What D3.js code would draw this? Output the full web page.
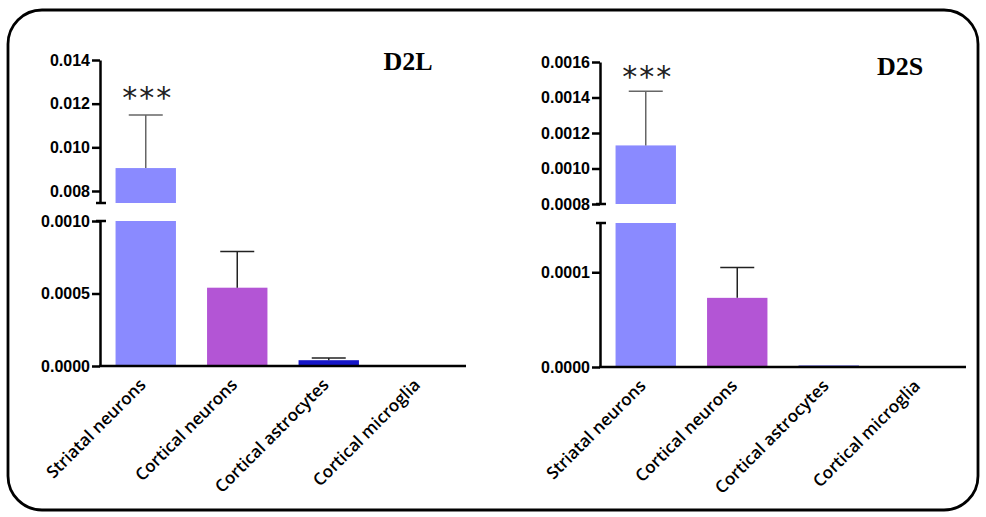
<!DOCTYPE html>
<html>
<head>
<meta charset="utf-8">
<script src="https://cdn.jsdelivr.net/npm/d3@7"></script>
<style>
	body { margin: 0; background: #fff; }
	svg { display: block; }
</style>
</head>
<body>
<svg id="graph"></svg>
<script>
var width = 986, height = 517;

// categories on the x axis
var categories = ["Striatal neurons", "Cortical neurons", "Cortical astrocytes", "Cortical microglia"];
var barColors = ["#8a8aff", "#b355d5", "#1616c8", "#888888"];
var stars = ["***", "", "", ""];

// D2L panel
var d2lMeans = [0.00905, 0.00054, 0.00004, 0];
var d2lErrors = [0.00243, 0.00025, 0.000016, 0];
var d2lUpperTicks = [0.008, 0.010, 0.012, 0.014];
var d2lLowerTicks = [0.0000, 0.0005, 0.0010];

// D2S panel
var d2sMeans = [0.00113, 0.000073, 0.0000015, 0];
var d2sErrors = [0.000305, 0.000032, 0, 0];
var d2sUpperTicks = [0.0008, 0.0010, 0.0012, 0.0014, 0.0016];
var d2sLowerTicks = [0.0000, 0.0001];

var svg = d3.select("#graph")
	.attr("width", width)
	.attr("height", height);

// rounded frame
svg.append("rect")
	.attr("x", 8).attr("y", 10)
	.attr("width", 970).attr("height", 500)
	.attr("rx", 34).attr("ry", 34)
	.style("fill", "none")
	.style("stroke", "#000")
	.style("stroke-width", 2.8);

function drawPanel(cfg){
	var plot = svg.append("g");

	var xScale = d3.scaleBand().domain(categories)
		.range([cfg.x0, cfg.x1])
		.paddingInner(0.34).paddingOuter(0.17);

	var yUpper = d3.scaleLinear().domain(cfg.upperDomain).range(cfg.upperRange);
	var yLower = d3.scaleLinear().domain(cfg.lowerDomain).range(cfg.lowerRange);

	var data = categories.map(function(c, i){
		return {cat: c, mean: cfg.means[i], err: cfg.errors[i], color: barColors[i], star: stars[i]};
	});

	// lower part of each bar
	plot.selectAll(".barLow")
		.data(data.filter(function(d){ return d.mean > 0; }))
		.enter().append("rect")
		.attr("x", function(d){ return xScale(d.cat); })
		.attr("width", xScale.bandwidth())
		.attr("y", function(d){ return yLower(Math.min(d.mean, cfg.lowerDomain[1])); })
		.attr("height", function(d){ return yLower(0) - yLower(Math.min(d.mean, cfg.lowerDomain[1])); })
		.style("fill", function(d){ return d.color; });

	// upper part of bars that go past the break
	var tall = data.filter(function(d){ return d.mean > cfg.upperDomain[0]; });
	plot.selectAll(".barHigh")
		.data(tall)
		.enter().append("rect")
		.attr("x", function(d){ return xScale(d.cat); })
		.attr("width", xScale.bandwidth())
		.attr("y", function(d){ return yUpper(d.mean); })
		.attr("height", function(d){ return yUpper(cfg.upperDomain[0]) - yUpper(d.mean); })
		.style("fill", function(d){ return d.color; });

	// error bars
	var withErr = data.filter(function(d){ return d.err > 0; });
	function yOf(v, d){ return d.mean > cfg.upperDomain[0] ? yUpper(v) : yLower(v); }
	withErr.forEach(function(d){
		var cx = xScale(d.cat) + xScale.bandwidth() / 2;
		var col = d.mean > cfg.upperDomain[0] ? "#666" : "#222";
		plot.append("line")
			.attr("x1", cx).attr("x2", cx)
			.attr("y1", yOf(d.mean, d)).attr("y2", yOf(d.mean + d.err, d))
			.style("stroke", col).style("stroke-width", 1.5);
		plot.append("line")
			.attr("x1", cx - 17).attr("x2", cx + 17)
			.attr("y1", yOf(d.mean + d.err, d)).attr("y2", yOf(d.mean + d.err, d))
			.style("stroke", col).style("stroke-width", 1.5);
		if (d.star){
			plot.append("text")
				.attr("x", cx + 2)
				.attr("y", yOf(d.mean + d.err, d) - cfg.starGap)
				.attr("text-anchor", "middle")
				.style("font-family", "DejaVu Sans")
				.style("font-size", "30px")
				.style("letter-spacing", "2px")
				.style("fill", "#222")
				.text(d.star);
		}
	});

	// y axes, one per segment
	var upperAxis = plot.append("g")
		.attr("transform", "translate(" + cfg.x0 + ",0)")
		.call(d3.axisLeft(yUpper).tickValues(cfg.upperTicks)
			.tickFormat(d3.format(cfg.upperFormat)).tickSize(8).tickSizeOuter(0).tickPadding(2));
	var lowerAxis = plot.append("g")
		.attr("transform", "translate(" + cfg.x0 + ",0)")
		.call(d3.axisLeft(yLower).tickValues(cfg.lowerTicks)
			.tickFormat(d3.format(".4f")).tickSize(8).tickSizeOuter(0).tickPadding(2));

	[upperAxis, lowerAxis].forEach(function(ax){
		ax.selectAll("path, line").style("stroke", "#000").style("stroke-width", 2.5);
		ax.selectAll("text")
			.style("font-family", "Liberation Sans, Arial")
			.style("font-weight", "bold")
			.style("font-size", "16px")
			.style("fill", "#000");
	});

	// little caps at the axis break
	[yUpper(cfg.upperDomain[0]), yLower(cfg.lowerDomain[1])].forEach(function(y){
		plot.append("line")
			.attr("x1", cfg.x0 - 4).attr("x2", cfg.x0 + 6)
			.attr("y1", y).attr("y2", y)
			.style("stroke", "#000").style("stroke-width", 2.5);
	});

	// x axis
	var xAxis = plot.append("g")
		.attr("transform", "translate(0," + yLower(0) + ")")
		.call(d3.axisBottom(xScale).tickSize(0).tickSizeOuter(0).tickPadding(0));
	xAxis.select(".domain").attr("d", "M" + (cfg.x0 - 1) + ",0H" + cfg.x1)
		.style("stroke", "#000").style("stroke-width", 2.5);
	xAxis.selectAll("text")
		.attr("text-anchor", "end")
		.attr("dy", null)
		.attr("y", 0)
		.attr("transform", "translate(1,20) rotate(-45)")
		.style("font-family", "Open Sans")
		.style("font-weight", 600)
		.style("font-size", "17px")
		.style("fill", "#000");

	plot.append("text")
		.attr("x", cfg.titleX).attr("y", cfg.titleY)
		.attr("text-anchor", "middle")
		.style("font-family", "Liberation Serif, Times New Roman")
		.style("font-weight", "bold")
		.style("font-size", "26px")
		.text(cfg.title);
}

drawPanel({
	title: "D2L", titleX: 408, titleY: 70,
	x0: 100, x1: 466,
	means: d2lMeans, errors: d2lErrors,
	upperDomain: [0.00745, 0.014], upperRange: [203, 60],
	lowerDomain: [0, 0.0010], lowerRange: [366, 221],
	upperTicks: d2lUpperTicks, lowerTicks: d2lLowerTicks,
	upperFormat: ".3f", starGap: 7
});

drawPanel({
	title: "D2S", titleX: 900, titleY: 75,
	x0: 600, x1: 966,
	means: d2sMeans, errors: d2sErrors,
	upperDomain: [0.0008, 0.0016], upperRange: [204, 62],
	lowerDomain: [0, 0.000152], lowerRange: [367, 223],
	upperTicks: d2sUpperTicks, lowerTicks: d2sLowerTicks,
	upperFormat: ".4f", starGap: 4
});
</script>
</body>
</html>
